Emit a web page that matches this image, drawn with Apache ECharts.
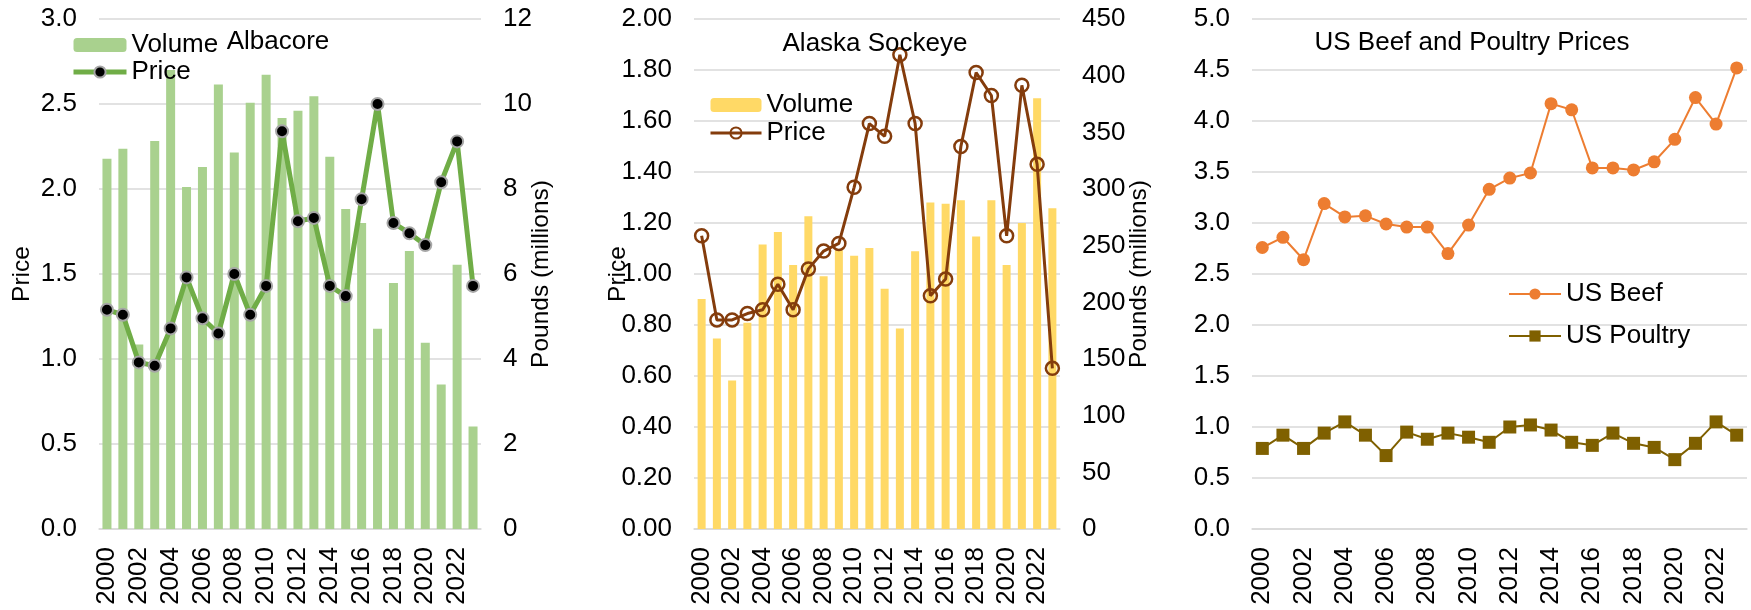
<!DOCTYPE html>
<html>
<head>
<meta charset="utf-8">
<script src="https://cdn.jsdelivr.net/npm/echarts@6/dist/echarts.min.js"></script>
<style>
html,body{margin:0;padding:0;background:#fff;}
#c{width:1751px;height:610px;}
</style>
</head>
<body>
<div id="c"></div>
<script>
// ---- data ----
const years = ['2000','2001','2002','2003','2004','2005','2006','2007','2008','2009','2010','2011',
               '2012','2013','2014','2015','2016','2017','2018','2019','2020','2021','2022','2023'];

const albacoreVolume = [8.71, 8.95, 4.34, 9.13, 10.8, 8.05, 8.52, 10.46, 8.86, 10.03, 10.69, 9.67,
                        9.84, 10.18, 8.76, 7.53, 7.20, 4.71, 5.79, 6.54, 4.38, 3.4, 6.22, 2.41];
const albacorePrice  = [1.29, 1.26, 0.98, 0.96, 1.18, 1.48, 1.24, 1.15, 1.50, 1.26, 1.43, 2.34,
                        1.81, 1.83, 1.43, 1.37, 1.94, 2.50, 1.80, 1.74, 1.67, 2.04, 2.28, 1.43];

const sockeyeVolume = [203, 168, 131, 182, 251, 262, 233, 276, 223, 246, 241, 248,
                       212, 177, 245, 288, 287, 290, 258, 290, 233, 270, 380, 283];
const sockeyePrice  = [1.15, 0.82, 0.82, 0.845, 0.86, 0.96, 0.86, 1.02, 1.09, 1.12, 1.34, 1.59,
                       1.54, 1.86, 1.59, 0.915, 0.98, 1.50, 1.79, 1.70, 1.15, 1.74, 1.43, 0.63];

const usBeef    = [2.76, 2.86, 2.64, 3.19, 3.06, 3.07, 2.99, 2.96, 2.96, 2.70, 2.98, 3.33,
                   3.44, 3.49, 4.17, 4.11, 3.54, 3.54, 3.52, 3.60, 3.82, 4.23, 3.97, 4.52];
const usPoultry = [0.79, 0.92, 0.79, 0.94, 1.05, 0.92, 0.72, 0.95, 0.88, 0.94, 0.90, 0.85,
                   1.00, 1.02, 0.97, 0.85, 0.82, 0.94, 0.84, 0.80, 0.68, 0.84, 1.05, 0.92];

const titles = ['Albacore', 'Alaska Sockeye', 'US Beef and Poultry Prices'];
const yName = 'Price';
const y2Name = 'Pounds (millions)';

// ---- styling ----
const FONT = '"Liberation Sans", Arial, sans-serif';
const FS = 26;
const GRIDC = '#d9d9d9';
const txt = {color:'#000', fontFamily: FONT, fontSize: FS};

function xAxis(gi){
  return {
    type:'category', gridIndex: gi, data: years, boundaryGap: true,
    axisLine:{show:true, lineStyle:{color:GRIDC, width:1.5}},
    axisTick:{show:false},
    axisLabel:Object.assign({rotate:90, interval:1, margin:18}, txt)
  };
}
function yAxis(gi, min, max, interval, dec, pos, split, name, gap){
  const a = {
    type:'value', gridIndex: gi, min, max, interval, position: pos,
    axisLine:{show:false}, axisTick:{show:false},
    splitLine:{show:split, lineStyle:{color:GRIDC, width:1.5}},
    axisLabel:Object.assign({margin:22, formatter: v => v.toFixed(dec)}, txt)
  };
  if (name){
    a.name = name; a.nameLocation = 'middle'; a.nameGap = gap;
    a.nameMoveOverlap = false;
    a.nameTextStyle = {color:'#000', fontFamily: FONT, fontSize: 24.5};
  }
  return a;
}
const stripName = n => n.split(':')[1];

const option = {
  animation:false,
  backgroundColor:'#fff',
  textStyle:{fontFamily: FONT},
  title:[
    {text: titles[0], left: 278, top: 29, padding:0, textAlign:'center', textStyle:Object.assign({fontWeight:'normal'}, txt)},
    {text: titles[1], left: 875, top: 31, padding:0, textAlign:'center', textStyle:Object.assign({fontWeight:'normal'}, txt)},
    {text: titles[2], left: 1472, top: 30, padding:0, textAlign:'center', textStyle:Object.assign({fontWeight:'normal'}, txt)}
  ],
  legend:[
    {data:['A:Volume', {name:'A:Price', lineStyle:{width:5}}], orient:'vertical', left:71, top:32, padding:0,
     itemWidth:53, itemHeight:14, itemGap:1,
     formatter: stripName, textStyle:Object.assign({lineHeight:26}, txt), selectedMode:false},
    {data:['S:Volume', {name:'S:Price', lineStyle:{width:3}}], orient:'vertical', left:709, top:92, padding:0,
     itemWidth:51, itemHeight:14, itemGap:2,
     formatter: stripName, textStyle:Object.assign({lineHeight:26}, txt), selectedMode:false},
    {data:['B:US Beef','B:US Poultry'], orient:'vertical', left:1508, top:281, padding:0, itemWidth:52, itemHeight:14, itemGap:16,
     formatter: stripName, textStyle:Object.assign({lineHeight:26}, txt), selectedMode:false}
  ],
  grid:[
    {left:99, right:1751-481, top:19, bottom:81},
    {left:694, right:1751-1060, top:19, bottom:81},
    {left:1252, right:4, top:19, bottom:81}
  ],
  xAxis:[xAxis(0), xAxis(1), xAxis(2)],
  yAxis:[
    yAxis(0, 0, 3, 0.5, 1, 'left', true, yName, 64),
    yAxis(0, 0, 12, 2, 0, 'right', false, y2Name, 48),
    yAxis(1, 0, 2, 0.2, 2, 'left', true, yName, 63),
    yAxis(1, 0, 450, 50, 0, 'right', false, y2Name, 67),
    yAxis(2, 0, 5, 0.5, 1, 'left', true, null, 0)
  ],
  series:[
    {name:'A:Volume', type:'bar', xAxisIndex:0, yAxisIndex:1, data: albacoreVolume,
     barWidth: 9, itemStyle:{color:'#a9d18e'}},
    {name:'A:Price', type:'line', xAxisIndex:0, yAxisIndex:0, data: albacorePrice, showAllSymbol:true,
     symbol:'circle', symbolSize:12, lineStyle:{color:'#70ad47', width:5},
     itemStyle:{color:'#000', borderColor:'#a6a6a6', borderWidth:2}},
    {name:'S:Volume', type:'bar', xAxisIndex:1, yAxisIndex:3, data: sockeyeVolume,
     barWidth: 8, itemStyle:{color:'#ffd966'}},
    {name:'S:Price', type:'line', xAxisIndex:1, yAxisIndex:2, data: sockeyePrice, showAllSymbol:true,
     symbol:'circle', symbolSize:13, lineStyle:{color:'#843c0c', width:3},
     itemStyle:{color:'rgba(0,0,0,0)', borderColor:'#843c0c', borderWidth:2.5}},
    {name:'B:US Beef', type:'line', xAxisIndex:2, yAxisIndex:4, data: usBeef, showAllSymbol:true,
     symbol:'circle', symbolSize:13, lineStyle:{color:'#ed7d31', width:2},
     itemStyle:{color:'#ed7d31'}},
    {name:'B:US Poultry', type:'line', xAxisIndex:2, yAxisIndex:4, data: usPoultry, showAllSymbol:true,
     symbol:'rect', symbolSize:13, lineStyle:{color:'#7f6000', width:2},
     itemStyle:{color:'#7f6000'}}
  ]
};
const chart = echarts.init(document.getElementById('c'), null, {renderer:'canvas'});
chart.setOption(option);
</script>
</body>
</html>
